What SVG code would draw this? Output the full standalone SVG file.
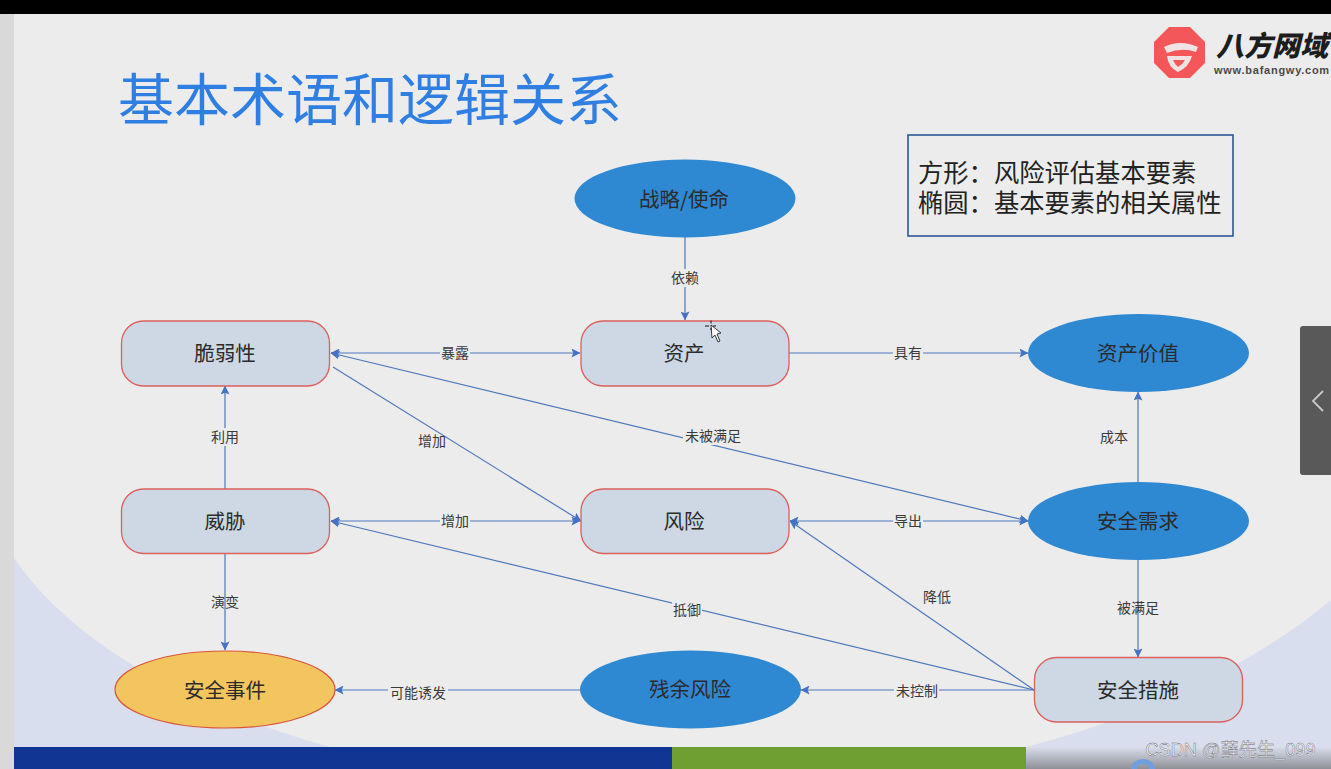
<svg xmlns="http://www.w3.org/2000/svg" width="1331" height="769" viewBox="0 0 1331 769">
<style>
text{font-family:"Noto Sans CJK SC","Liberation Sans",sans-serif;text-anchor:middle}
.box{fill:#cdd8e4;stroke:#dc5f5c;stroke-width:1.3}
.ell{fill:#2f88d2}
.nt{font-size:20.5px;fill:#2b2b2b;dominant-baseline:central}
.lb{font-size:14px;fill:#3a3a3a;dominant-baseline:central}
.mask{fill:#ececec}
.c{fill:none;stroke:#4f78bd;stroke-width:1.2}
</style>
<defs>
<marker id="a" viewBox="0 0 10 10" refX="9.5" refY="5" markerWidth="9" markerHeight="9" markerUnits="userSpaceOnUse" orient="auto-start-reverse"><path d="M0 0L10 5L0 10L2 5Z" fill="#4472c4"/></marker>
<linearGradient id="foot" x1="0" y1="0" x2="0" y2="1"><stop offset="0" stop-color="#d9deec"/><stop offset="1" stop-color="#8e9096"/></linearGradient>
</defs>
<rect width="1331" height="769" fill="#ececec"/>
<rect width="1331" height="14" fill="#000"/>
<rect y="14" width="14" height="755" fill="#d9d9d9"/>
<path d="M14 558C70 640 180 705 330 747H14Z" fill="#d9deee"/>
<path d="M1331 600C1260 660 1150 715 1026 747H1331Z" fill="#d9deee"/>
<rect x="1026" y="747" width="305" height="22" fill="url(#foot)"/>
<rect x="14" y="747" width="658" height="22" fill="#103593"/>
<rect x="672" y="747" width="354" height="22" fill="#6f9f32"/>
<path d="M1131 769a12 10 0 0 1 24 0h-6a6 5 0 0 0-12 0Z" fill="#6f9fdc"/>

<text x="370" y="95" style="font-size:56px;dominant-baseline:central" fill="#2f7fe3">基本术语和逻辑关系</text>

<g id="logo">
<path d="M1169 27H1190L1205 42V63L1190 78H1169L1154 63V42Z" fill="#f4575a"/>
<path d="M1164 47Q1180 39 1198 47L1196 52Q1182 47 1167 53ZM1167 56H1192Q1189 67 1178 72Q1168 67 1167 56ZM1173 60Q1175 65 1178 67Q1183 64 1185 60Z" fill="#f1e3e3" fill-rule="evenodd"/>
<text x="1272" y="44" style="font-size:28px;font-weight:900;font-style:italic;dominant-baseline:central" fill="#1d1d1d">八方网域</text>
<text x="1214" y="70" style="font-size:11px;font-weight:700;text-anchor:start;font-family:'Liberation Sans',sans-serif;letter-spacing:.75px;dominant-baseline:central" fill="#4a4a4a">www.bafangwy.com</text>
</g>

<g id="legend">
<rect x="908" y="135" width="325" height="101" fill="none" stroke="#2f5597" stroke-width="1.6"/>
<text x="918" y="171" style="font-size:25.3px;text-anchor:start;dominant-baseline:central" fill="#222">方形：风险评估基本要素</text>
<text x="918" y="201" style="font-size:25.3px;text-anchor:start;dominant-baseline:central" fill="#222">椭圆：基本要素的相关属性</text>
</g>

<g id="connectors">
<path class="c" d="M685 237V320" marker-end="url(#a)"/>
<path class="c" d="M331 353H580" marker-start="url(#a)" marker-end="url(#a)"/>
<path class="c" d="M789 353H1028" marker-end="url(#a)"/>
<path class="c" d="M331 353L1028 521" marker-start="url(#a)" marker-end="url(#a)"/>
<path class="c" d="M333 367L581 521" marker-end="url(#a)"/>
<path class="c" d="M225 489V386" marker-end="url(#a)"/>
<path class="c" d="M331 521H580" marker-start="url(#a)" marker-end="url(#a)"/>
<path class="c" d="M790 521H1028" marker-start="url(#a)" marker-end="url(#a)"/>
<path class="c" d="M225 553V650" marker-end="url(#a)"/>
<path class="c" d="M331 521L1034 690" marker-start="url(#a)"/>
<path class="c" d="M1034 690L790 521" marker-end="url(#a)"/>
<path class="c" d="M1138 482V392" marker-end="url(#a)"/>
<path class="c" d="M1138 560V657" marker-end="url(#a)"/>
<path class="c" d="M1034 690H801" marker-end="url(#a)"/>
<path class="c" d="M580 690H335" marker-end="url(#a)"/>
<g id="edge-labels">
<rect class="mask" x="669" y="269" width="32" height="18"/><text class="lb" x="685" y="277">依赖</text>
<rect class="mask" x="440" y="344" width="30" height="18"/><text class="lb" x="455" y="352">暴露</text>
<rect class="mask" x="893" y="344" width="30" height="18"/><text class="lb" x="908" y="352">具有</text>
<rect class="mask" x="683" y="427" width="60" height="18"/><text class="lb" x="713" y="435">未被满足</text>
<text class="lb" x="432" y="440">增加</text>
<rect class="mask" x="210" y="428" width="30" height="18"/><text class="lb" x="225" y="436">利用</text>
<rect class="mask" x="1100" y="428" width="30" height="18"/><text class="lb" x="1114" y="436">成本</text>
<rect class="mask" x="440" y="512" width="30" height="18"/><text class="lb" x="455" y="520">增加</text>
<rect class="mask" x="893" y="512" width="30" height="18"/><text class="lb" x="908" y="520">导出</text>
<text class="lb" x="225" y="601">演变</text>
<text class="lb" x="937" y="596">降低</text>
<text class="lb" x="1138" y="607">被满足</text>
<rect class="mask" x="672" y="601" width="30" height="18"/><text class="lb" x="687" y="609">抵御</text>
<rect class="mask" x="894" y="682" width="45" height="18"/><text class="lb" x="917" y="690">未控制</text>
<rect class="mask" x="388" y="685" width="60" height="18"/><text class="lb" x="418" y="692">可能诱发</text>
</g>
</g>

<g id="n-strategy"><ellipse class="ell" cx="685" cy="198.500" rx="110.500" ry="39"/><text class="nt" x="684" y="197.500" fill="#222">战略/使命</text></g>
<g id="n-vuln"><rect class="box" x="121.500" y="321" width="208" height="65" rx="22"/><text class="nt" x="225" y="352">脆弱性</text></g>
<g id="n-asset"><rect class="box" x="581" y="321" width="208" height="65" rx="22"/><text class="nt" x="684" y="352">资产</text></g>
<g id="n-value"><ellipse class="ell" cx="1138.500" cy="353" rx="110.500" ry="39"/><text class="nt" x="1138" y="352">资产价值</text></g>
<g id="n-threat"><rect class="box" x="121.500" y="489" width="208" height="64.500" rx="22"/><text class="nt" x="225" y="520">威胁</text></g>
<g id="n-risk"><rect class="box" x="581" y="489" width="208" height="64.500" rx="22"/><text class="nt" x="684" y="520">风险</text></g>
<g id="n-need"><ellipse class="ell" cx="1138.500" cy="521" rx="110.500" ry="39"/><text class="nt" x="1138" y="520">安全需求</text></g>
<g id="n-incident"><ellipse cx="225" cy="689.500" rx="110" ry="38.500" fill="#f2c55f" stroke="#d9563a" stroke-width="1.2"/><text class="nt" x="225" y="689">安全事件</text></g>
<g id="n-residual"><ellipse class="ell" cx="690.500" cy="689.500" rx="110.500" ry="39"/><text class="nt" x="690" y="688">残余风险</text></g>
<g id="n-measure"><rect class="box" x="1034.500" y="657.500" width="208" height="64.500" rx="22"/><text class="nt" x="1138" y="689">安全措施</text></g>

<g id="cursor"><path d="M711 325L712 338L715 335L718 342L720 341L717 334L721 333Z" fill="#fff" stroke="#222" stroke-width=".9"/><path d="M711 320.500v3M711 328v2M705 326h4M713 326h3" stroke="#111" stroke-width="1"/></g>

<g id="side-tab"><path d="M1331 326H1303Q1300 326 1300 329V472Q1300 475 1303 475H1331Z" fill="#595959"/><path d="M1323 391L1313 401L1323 411" fill="none" stroke="#c8c8c8" stroke-width="1.800"/></g>

<text x="1230.500" y="750" style="font-size:18.200px;dominant-baseline:central;font-family:'Liberation Sans','Noto Sans CJK SC',sans-serif" fill="#f0f0f4" stroke="#66666c" stroke-width=".4">CSDN @薛先生_099</text>
</svg>
